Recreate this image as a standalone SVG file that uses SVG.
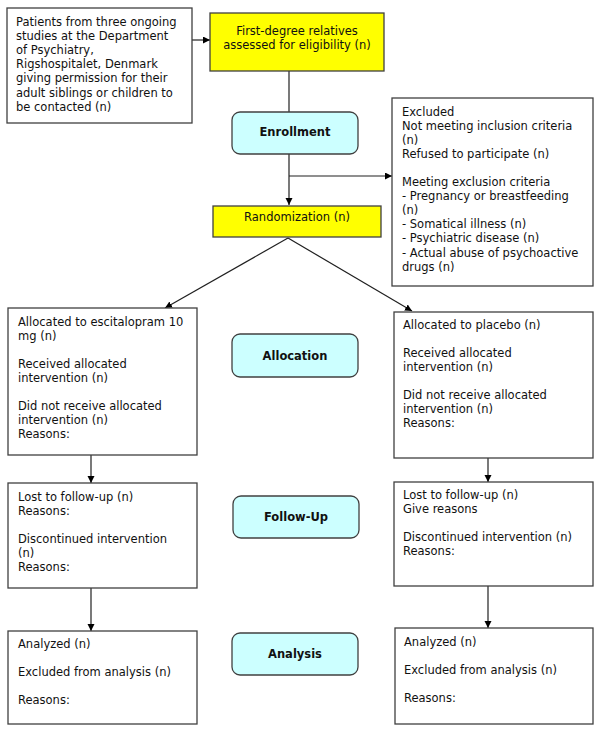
<svg xmlns="http://www.w3.org/2000/svg" width="600" height="732" viewBox="0 0 600 732">
<defs>
<style>
.box{fill:#ffffff;stroke:#404040;stroke-width:1.3}
.yel{fill:#ffff00;stroke:#404040;stroke-width:1.3}
.phase{fill:#ccffff;stroke:#404040;stroke-width:1.3}
text{font-family:"DejaVu Sans",Verdana,sans-serif;font-size:11.5px;fill:#111}
.c{text-anchor:middle}
.b{font-weight:bold}
.ln{stroke:#202020;stroke-width:1.2;fill:none}
.ar{marker-end:url(#ah)}
</style>
<marker id="ah" markerUnits="userSpaceOnUse" markerWidth="8" markerHeight="8" refX="7" refY="3.5" orient="auto">
<path d="M0,0 L7,3.5 L0,7 z" fill="#000"/>
</marker>
</defs>
<rect width="600" height="732" fill="#ffffff"/>

<g id="connectors">
<line class="ln ar" x1="192" y1="40" x2="210" y2="40"/>
<line class="ln" x1="289" y1="71" x2="289" y2="112"/>
<line class="ln ar" x1="289" y1="154" x2="289" y2="205"/>
<line class="ln ar" x1="289" y1="176" x2="392" y2="176"/>
<line class="ln ar" x1="288" y1="238" x2="165" y2="308"/>
<line class="ln ar" x1="288" y1="238" x2="412" y2="311"/>
<line class="ln ar" x1="91" y1="455" x2="91" y2="483"/>
<line class="ln ar" x1="488" y1="457" x2="488" y2="482"/>
<line class="ln ar" x1="91" y1="588" x2="91" y2="631"/>
<line class="ln ar" x1="488" y1="586" x2="488" y2="628"/>
</g>

<g id="patients">
<rect class="box" x="7" y="8" width="185" height="115"/>
<text x="16" y="25.5">Patients from three ongoing</text>
<text x="16" y="39.7">studies at the Department</text>
<text x="16" y="54">of Psychiatry,</text>
<text x="16" y="68.2">Rigshospitalet, Denmark</text>
<text x="16" y="82.4">giving permission for their</text>
<text x="16" y="96.6">adult siblings or children to</text>
<text x="16" y="110.8">be contacted (n)</text>
</g>

<g id="relatives">
<rect class="yel" x="210" y="13" width="174" height="58"/>
<text class="c" x="297" y="35">First-degree relatives</text>
<text class="c" x="297" y="49">assessed for eligibility (n)</text>
</g>

<g id="enrollment">
<rect class="phase" x="232" y="112" width="126" height="42" rx="8"/>
<text class="c b" x="295" y="136">Enrollment</text>
</g>

<g id="excluded">
<rect class="box" x="392" y="98" width="201" height="188"/>
<text x="402" y="115.5">Excluded</text>
<text x="402" y="129.6">Not meeting inclusion criteria</text>
<text x="402" y="143.7">(n)</text>
<text x="402" y="157.8">Refused to participate (n)</text>
<text x="402" y="186">Meeting exclusion criteria</text>
<text x="402" y="200.1">- Pregnancy or breastfeeding</text>
<text x="402" y="214.2">(n)</text>
<text x="402" y="228.3">- Somatical illness (n)</text>
<text x="402" y="242.4">- Psychiatric disease (n)</text>
<text x="402" y="256.5">- Actual abuse of psychoactive</text>
<text x="402" y="270.6">drugs (n)</text>
</g>

<g id="randomization">
<rect class="yel" x="213" y="206" width="168" height="31"/>
<text class="c" x="297" y="221">Randomization (n)</text>
</g>

<g id="alloc-left">
<rect class="box" x="8" y="308" width="189" height="147"/>
<text x="18" y="325.5">Allocated to escitalopram 10</text>
<text x="18" y="339.5">mg (n)</text>
<text x="18" y="367.5">Received allocated</text>
<text x="18" y="381.5">intervention (n)</text>
<text x="18" y="409.5">Did not receive allocated</text>
<text x="18" y="423.5">intervention (n)</text>
<text x="18" y="437.5">Reasons:</text>
</g>

<g id="allocation">
<rect class="phase" x="232" y="334" width="126" height="43" rx="8"/>
<text class="c b" x="295" y="360">Allocation</text>
</g>

<g id="alloc-right">
<rect class="box" x="394" y="312" width="199" height="146"/>
<text x="403" y="328.5">Allocated to placebo (n)</text>
<text x="403" y="356.5">Received allocated</text>
<text x="403" y="370.5">intervention (n)</text>
<text x="403" y="398.5">Did not receive allocated</text>
<text x="403" y="412.5">intervention (n)</text>
<text x="403" y="426.5">Reasons:</text>
</g>

<g id="follow-left">
<rect class="box" x="8" y="483" width="189" height="105"/>
<text x="18" y="501">Lost to follow-up (n)</text>
<text x="18" y="515">Reasons:</text>
<text x="18" y="543">Discontinued intervention</text>
<text x="18" y="557">(n)</text>
<text x="18" y="571">Reasons:</text>
</g>

<g id="followup">
<rect class="phase" x="233" y="496" width="126" height="42" rx="8"/>
<text class="c b" x="296" y="521">Follow-Up</text>
</g>

<g id="follow-right">
<rect class="box" x="394" y="482" width="199" height="104"/>
<text x="403" y="498.7">Lost to follow-up (n)</text>
<text x="403" y="512.7">Give reasons</text>
<text x="403" y="540.7">Discontinued intervention (n)</text>
<text x="403" y="554.7">Reasons:</text>
</g>

<g id="analysis-left">
<rect class="box" x="8" y="631" width="189" height="93"/>
<text x="18" y="647.7">Analyzed (n)</text>
<text x="18" y="676">Excluded from analysis (n)</text>
<text x="18" y="703.7">Reasons:</text>
</g>

<g id="analysis">
<rect class="phase" x="232" y="633" width="126" height="42" rx="8"/>
<text class="c b" x="295" y="657.5">Analysis</text>
</g>

<g id="analysis-right">
<rect class="box" x="395" y="628" width="198" height="96"/>
<text x="404" y="646">Analyzed (n)</text>
<text x="404" y="674">Excluded from analysis (n)</text>
<text x="404" y="701.7">Reasons:</text>
</g>
</svg>
